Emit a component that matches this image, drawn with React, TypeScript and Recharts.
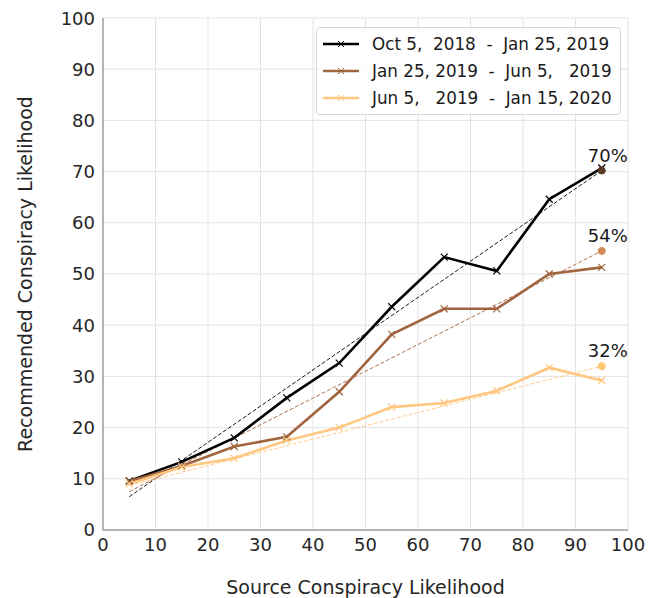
import React from "react";
import { ComposedChart, Line, XAxis, YAxis, CartesianGrid, LabelList } from "recharts";

const xValues = [5, 15, 25, 35, 45, 55, 65, 75, 85, 95];
const ticks = [0, 10, 20, 30, 40, 50, 60, 70, 80, 90, 100];

const periodNames = [
  "Oct 5,  2018  -  Jan 25, 2019",
  "Jan 25, 2019  -  Jun 5,   2019",
  "Jun 5,   2019  -  Jan 15, 2020",
];
const period1 = [9.6, 13.3, 18.0, 25.8, 32.6, 43.6, 53.3, 50.6, 64.6, 70.7];
const period2 = [9.5, 12.5, 16.3, 18.2, 27.0, 38.2, 43.2, 43.2, 50.0, 51.3];
const period3 = [9.0, 12.3, 14.0, 17.5, 20.0, 24.0, 24.8, 27.2, 31.7, 29.2];

const trendStart = [6.5, 7.5, 8.7];
const trendEnd = [70.2, 54.5, 32.0];
const endLabels = ["70%", "54%", "32%"];

const lineColors = ["#000000", "#a0643f", "#ffc77f"];
const dotColors = ["#5b3a27", "#d38a58", "#fec46e"];

const seriesValues = [period1, period2, period3];
const font = "DejaVu Sans, sans-serif";

const cross = (color: string) => (props: any) => {
  const { cx, cy, index } = props;
  if (cx == null || cy == null) return <g key={index} />;
  const s = 3.5;
  return (
    <path
      key={index}
      d={`M${cx - s},${cy - s}L${cx + s},${cy + s}M${cx - s},${cy + s}L${cx + s},${cy - s}`}
      stroke={color}
      strokeWidth={1.2}
      fill="none"
    />
  );
};

const LegendBox = () => (
  <div
    style={{
      position: "absolute",
      top: 19,
      left: 308,
      border: "1px solid #d8d8d8",
      borderRadius: 4,
      background: "rgba(255,255,255,0.85)",
      padding: "2px 8px 3px 6px",
      fontFamily: font,
      fontSize: 16.8,
      color: "#1a1a1a",
    }}
  >
    {periodNames.map((name, i) => (
      <div key={name} style={{ display: "flex", alignItems: "center", height: 27 }}>
        <svg width={37} height={12} style={{ marginRight: 12 }}>
          <line x1={0} y1={6} x2={36} y2={6} stroke={lineColors[i]} strokeWidth={2.5} />
          <path d="M15,3L21,9M15,9L21,3" stroke={lineColors[i]} strokeWidth={1} />
        </svg>
        <span style={{ whiteSpace: "pre" }}>{name}</span>
      </div>
    ))}
  </div>
);

export default function App() {
  return (
    <div style={{ position: "relative", width: 647, height: 590 }}>
      <ComposedChart
        width={647}
        height={590}
        margin={{ top: 10, right: 27, left: 5, bottom: 8 }}
        style={{ fontFamily: font }}
      >
        <CartesianGrid stroke="#e3e3e3" strokeWidth={1} />
        <XAxis
          type="number"
          dataKey="x"
          domain={[0, 100]}
          ticks={ticks}
          tickLine={false}
          axisLine={{ stroke: "#7a7a7a" }}
          tick={{ fontSize: 18, fill: "#262626" }}
          height={60}
          allowDataOverflow
          label={{ value: "Source Conspiracy Likelihood", position: "insideBottom", offset: -4, style: { fontSize: 19, fill: "#262626" } }}
        />
        <XAxis xAxisId="top" orientation="top" type="number" domain={[0, 100]} tick={false} tickLine={false} height={0} axisLine={{ stroke: "#7a7a7a" }} />
        <YAxis
          type="number"
          domain={[0, 100]}
          ticks={ticks}
          tickLine={false}
          axisLine={{ stroke: "#7a7a7a" }}
          tick={{ fontSize: 18, fill: "#262626" }}
          width={90}
          allowDataOverflow
          label={{
            value: "Recommended Conspiracy Likelihood",
            angle: -90,
            position: "insideLeft",
            offset: 12,
            style: { fontSize: 19, fill: "#262626", textAnchor: "middle" },
          }}
        />
        <YAxis yAxisId="right" orientation="right" tick={false} tickLine={false} width={0} axisLine={{ stroke: "#7a7a7a" }} />
        {seriesValues.map((vals, i) => (
          <Line
            key={`trend${i}`}
            data={[
              { x: xValues[0], y: trendStart[i] },
              { x: xValues[xValues.length - 1], y: trendEnd[i] },
            ]}
            dataKey="y"
            stroke={lineColors[i]}
            strokeWidth={0.9}
            strokeDasharray="4 2"
            dot={false}
            isAnimationActive={false}
          />
        ))}
        {seriesValues.map((vals, i) => (
          <Line
            key={`series${i}`}
            data={xValues.map((x, j) => ({ x, y: vals[j] }))}
            dataKey="y"
            name={periodNames[i]}
            stroke={lineColors[i]}
            strokeWidth={2.6}
            dot={cross(lineColors[i])}
            isAnimationActive={false}
          />
        ))}
        {endLabels.map((lab, i) => (
          <Line
            key={`end${i}`}
            data={[{ x: xValues[xValues.length - 1], y: trendEnd[i], label: lab }]}
            dataKey="y"
            stroke="none"
            dot={{ r: 3.5, fill: dotColors[i], stroke: dotColors[i] }}
            isAnimationActive={false}
          >
            <LabelList dataKey="label" position="top" offset={9} style={{ fontSize: 18, fill: "#1a1a1a" }} dx={6} />
          </Line>
        ))}
      </ComposedChart>
      <LegendBox />
    </div>
  );
}
